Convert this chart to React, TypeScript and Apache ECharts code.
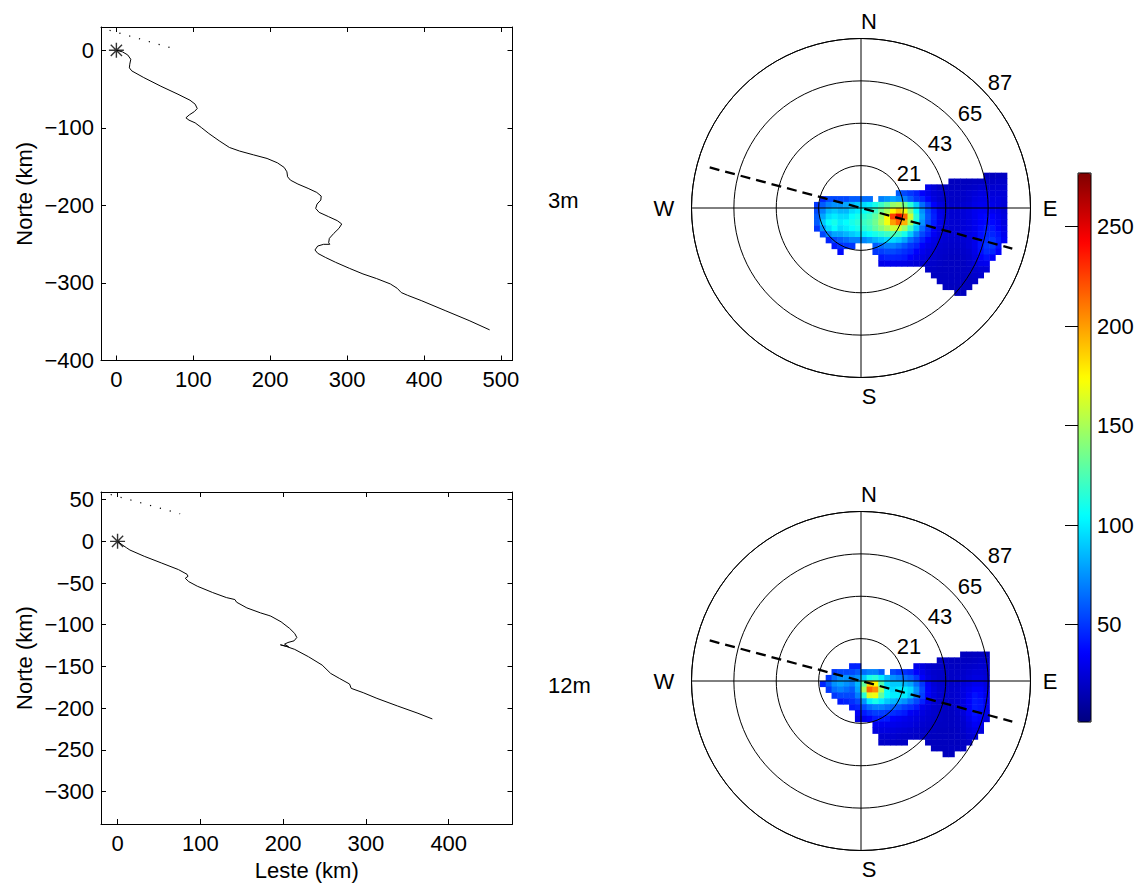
import React, { useEffect, useRef } from 'react';
import * as echarts from 'echarts';

const FONT = '"Liberation Sans", Arial, Helvetica, sans-serif';

// ---------- Left panels: progressive vector diagrams (km) ----------
const PATH_3M: number[][] = [
  [0, 0], [8.0, -2.1], [14.7, -6.0], [18.7, -11.6], [17.4, -18.0], [16.9, -22.7], [20.0, -26.6],
  [35.6, -35.2], [57.9, -46.4], [80.1, -56.7], [95.7, -64.4], [102.4, -69.5], [105.1, -75.1],
  [101.5, -79.0], [94.8, -83.3], [90.4, -87.1], [94.4, -90.1], [102.4, -93.6], [110.4, -99.6],
  [120.2, -107.3], [133.6, -116.7], [146.9, -125.3], [160.3, -130.0], [178.1, -134.8],
  [195.9, -139.5], [209.3, -145.1], [218.2, -151.1], [221.7, -156.7], [222.6, -163.1],
  [226.2, -167.4], [236.0, -172.5], [249.3, -178.1], [260.5, -183.3], [266.3, -188.0],
  [265.8, -193.1], [260.9, -198.3], [259.1, -203.9], [263.6, -209.0], [276.0, -214.6],
  [287.2, -219.7], [293.0, -224.0], [289.4, -229.6], [282.7, -236.1], [276.9, -242.5],
  [276.0, -248.1], [277.4, -250.2], [269.4, -250.2], [261.8, -252.4], [258.2, -257.5],
  [261.8, -261.8], [271.6, -267.0], [285.0, -273.4], [302.8, -281.1], [320.6, -288.4],
  [338.4, -294.4], [356.2, -301.3], [365.1, -306.9], [370.4, -312.4], [378.5, -315.9],
  [396.3, -322.7], [427.4, -335.6], [458.6, -348.5], [485.3, -360.5],
];
const PATH_12M: number[][] = [
  [0, 0], [5.4, -4.0], [10.7, -7.6], [14.9, -10.4], [32.2, -17.9], [52.9, -25.9], [73.6, -33.9],
  [83.9, -39.5], [85.1, -41.9], [81.8, -44.3], [86.0, -48.3], [96.3, -53.8], [114.9, -61.4],
  [131.4, -67.4], [141.7, -69.8], [143.8, -73.0], [156.2, -79.8], [172.7, -85.8], [181.8, -88.6],
  [185.1, -89.7], [197.5, -96.5], [207.9, -104.5], [214.0, -110.5], [216.5, -115.3],
  [213.2, -119.3], [205.8, -121.3], [201.7, -123.3], [206.6, -126.4], [196.7, -124.1],
  [203.7, -126.0], [214.0, -129.6], [230.6, -138.4], [247.1, -148.4], [257.4, -158.4],
  [267.8, -164.3], [280.2, -171.1], [282.2, -176.3], [296.7, -181.5], [313.2, -188.3],
  [338.0, -197.4], [362.8, -206.2], [380.2, -213.0],
];
const SCALE_3M: number[][] = [[-8.9, 25.8], [69.9, 3.4]];
const SCALE_12M: number[][] = [[-8.3, 56.2], [75.6, 33.1]];
const ORIGIN: number[][] = [[0, 0]];

const X_TICKS_3M = [0, 100, 200, 300, 400, 500];
const Y_TICKS_3M = [-400, -300, -200, -100, 0];
const X_TICKS_12M = [0, 100, 200, 300, 400];
const Y_TICKS_12M = [-300, -250, -200, -150, -100, -50, 0, 50];

// ---------- Right panels: polar histograms ----------
const RADIUS_MAX = 87;
const RING_LABELS = ['21', '43', '65', '87'];
const DIR_AXIS_3M: number[][] = [[80.4, 285], [80.4, 105]];
const DIR_AXIS_12M: number[][] = [[80.4, 285], [80.4, 105]];

// cell centres (east / north components)
const U_BINS = [-25.5, -22.5, -19.5, -16.5, -13.5, -10.5, -7.5, -4.5, -1.5, 1.5, 4.5, 7.5, 10.5, 13.5,
  16.5, 19.5, 22.5, 25.5, 28.5, 31.5, 34.5, 37.5, 40.5, 43.5, 46.5, 49.5, 52.5, 55.5, 58.5, 61.5,
  64.5, 67.5, 70.5, 73.5];
const V_BINS = [16.5, 13.5, 10.5, 7.5, 4.5, 1.5, -1.5, -4.5, -7.5, -10.5, -13.5, -16.5, -19.5, -22.5,
  -25.5, -28.5, -31.5, -34.5, -37.5, -40.5, -43.5, -46.5];

// each row (top to bottom): [first column index, values...]; 0 = empty
const HEAT_3M: [number, number[]][] = [
  [30, [18, 18, 19, 19]],
  [24, [18, 18, 18, 18, 19, 19, 20, 20, 21, 21]],
  [20, [30, 25, 20, 19, 19, 19, 19, 20, 21, 23, 23, 23, 23, 23]],
  [15, [60, 55, 50, 45, 35, 30, 25, 23, 21, 20, 20, 21, 23, 25, 27, 27, 25, 25, 25]],
  [2, [45, 55, 55, 55, 55, 60, 60, 65, 65, 0, 70, 75, 80, 75, 70, 60, 50, 45, 35, 27, 23, 21, 20, 20, 21, 23, 27, 29, 29, 27, 27, 25]],
  [1, [50, 60, 70, 75, 75, 80, 85, 90, 95, 100, 110, 120, 130, 145, 150, 135, 115, 90, 65, 50, 35, 27, 23, 21, 21, 23, 25, 29, 31, 31, 29, 27, 25]],
  [1, [55, 70, 85, 90, 85, 85, 95, 100, 105, 110, 120, 135, 150, 175, 190, 170, 140, 105, 75, 55, 42, 29, 25, 23, 23, 25, 27, 31, 33, 33, 31, 29, 25]],
  [1, [60, 80, 95, 100, 95, 95, 105, 110, 115, 120, 130, 145, 175, 225, 250, 215, 160, 115, 80, 58, 44, 31, 25, 23, 23, 25, 27, 31, 35, 37, 35, 31, 27]],
  [1, [60, 90, 105, 110, 100, 105, 110, 115, 120, 125, 135, 150, 170, 200, 215, 195, 150, 110, 75, 55, 42, 30, 25, 23, 23, 25, 27, 31, 35, 37, 37, 33, 27]],
  [1, [50, 75, 95, 105, 95, 100, 105, 110, 115, 120, 130, 140, 150, 160, 160, 145, 120, 90, 65, 50, 35, 28, 25, 23, 23, 25, 27, 31, 37, 42, 42, 35, 29]],
  [2, [55, 70, 80, 80, 85, 90, 95, 100, 105, 110, 115, 120, 125, 120, 110, 90, 70, 55, 45, 33, 27, 25, 23, 23, 25, 27, 31, 39, 45, 45, 40, 31]],
  [3, [45, 55, 60, 65, 70, 70, 72, 78, 85, 90, 95, 95, 90, 80, 65, 55, 45, 35, 29, 25, 23, 22, 22, 23, 25, 30, 40, 47, 50, 43, 33]],
  [4, [42, 48, 50, 50, 0, 0, 0, 60, 65, 70, 70, 65, 58, 50, 45, 35, 30, 27, 23, 22, 21, 21, 22, 25, 30, 40, 50, 50, 40]],
  [5, [38, 0, 0, 0, 0, 0, 50, 52, 55, 55, 52, 48, 44, 35, 31, 27, 25, 22, 21, 20, 20, 21, 23, 29, 39, 47, 45, 35]],
  [12, [42, 45, 45, 44, 42, 35, 31, 28, 25, 23, 21, 20, 19, 19, 20, 22, 27, 35, 40, 35]],
  [12, [30, 31, 31, 30, 29, 27, 25, 23, 22, 21, 20, 19, 19, 19, 19, 21, 25, 30, 31]],
  [20, [20, 20, 19, 19, 19, 19, 19, 20, 23, 25, 25]],
  [21, [19, 19, 19, 19, 19, 19, 20, 22, 23]],
  [22, [19, 19, 19, 19, 19, 19, 20]],
  [23, [18, 18, 18, 19, 19]],
  [25, [18, 18]],
  [0, []],
];
const HEAT_12M: [number, number[]][] = [
  [0, []],
  [26, [18, 18, 19, 19, 19]],
  [22, [19, 19, 18, 18, 19, 19, 20, 21, 21]],
  [7, [45, 45, 0, 0, 0, 0, 0, 0, 0, 0, 0, 30, 27, 23, 21, 20, 19, 19, 19, 20, 21, 22, 23, 23]],
  [4, [50, 55, 55, 55, 60, 65, 70, 70, 60, 0, 55, 50, 48, 45, 35, 30, 25, 22, 21, 20, 20, 20, 21, 23, 25, 25, 23]],
  [3, [50, 65, 75, 75, 70, 75, 90, 110, 115, 100, 85, 75, 70, 65, 60, 50, 35, 27, 23, 21, 20, 20, 21, 22, 25, 27, 27, 25]],
  [2, [45, 60, 75, 80, 75, 70, 85, 130, 185, 175, 125, 95, 90, 90, 85, 80, 65, 50, 33, 25, 22, 21, 21, 22, 25, 28, 31, 31, 27]],
  [3, [50, 65, 70, 65, 60, 80, 150, 215, 205, 150, 105, 95, 100, 100, 95, 75, 55, 35, 27, 23, 22, 22, 23, 27, 31, 35, 35, 29]],
  [4, [50, 55, 55, 55, 70, 115, 165, 170, 130, 105, 100, 100, 100, 90, 70, 52, 35, 27, 23, 22, 22, 23, 27, 33, 40, 37, 30]],
  [5, [42, 45, 48, 55, 75, 100, 110, 100, 90, 85, 80, 75, 65, 55, 45, 31, 25, 22, 21, 21, 23, 27, 35, 42, 40, 31]],
  [7, [42, 45, 55, 65, 70, 70, 65, 62, 58, 52, 48, 42, 31, 27, 23, 21, 20, 20, 22, 27, 35, 42, 40, 31]],
  [8, [33, 42, 48, 52, 52, 50, 48, 45, 42, 33, 30, 27, 24, 22, 20, 19, 19, 21, 25, 33, 40, 37, 29]],
  [8, [27, 30, 35, 42, 42, 42, 35, 33, 31, 29, 27, 25, 23, 21, 20, 19, 19, 20, 23, 30, 37, 35, 27]],
  [11, [31, 31, 31, 30, 29, 28, 27, 25, 23, 22, 20, 19, 19, 19, 20, 22, 27, 33, 31]],
  [11, [27, 27, 27, 26, 25, 24, 23, 22, 21, 20, 19, 18, 18, 18, 19, 21, 25, 29, 27]],
  [12, [23, 23, 23, 22, 21, 21, 20, 19, 19, 18, 18, 18, 18, 19, 20, 23, 25]],
  [12, [21, 21, 21, 20, 20, 0, 0, 0, 18, 18, 18, 18, 18, 18, 19, 21]],
  [21, [18, 18, 18, 19, 19, 19]],
  [23, [18, 18]],
  [0, []],
  [0, []],
  [0, []],
];

const CBAR_MIN = 1;
const CBAR_MAX = 277;
const CBAR_TICKS = [50, 100, 150, 200, 250];
const JET = ['#000080', '#0000ff', '#0080ff', '#00ffff', '#80ff80', '#ffff00', '#ff8000', '#ff0000', '#800000'];

// ---------- layout ----------
const W = 1142;
const H = 886;
const PC = [[861, 208], [861, 681]];
const PR = 169.5;
const S = PR / RADIUS_MAX;
const U_EDGE0 = -27;
const V_EDGE0 = 18;
const STAR = 'path://M0,-10L0,10M-10,0L10,0M-7.5,-7.5L7.5,7.5M-7.5,7.5L7.5,-7.5';

function heatData(rows: [number, number[]][]) {
  const out: number[][] = [];
  rows.forEach(([start, vals], j) => {
    vals.forEach((v, k) => {
      if (v > 0) out.push([start + k, j, v]);
    });
  });
  return out;
}

const minus = (v: number) => String(v).replace('-', '\u2212');

function boxAxes(grid: number, xr: number[], yr: number[], xt: number[], yt: number[], xName: string) {
  const line = { show: true, onZero: false, lineStyle: { color: '#000', width: 1 } };
  const tick = (vals: number[]) => ({ show: true, inside: true, length: 5, customValues: vals, lineStyle: { color: '#000', width: 1 } });
  const lab = (vals: number[], margin: number) => ({
    show: true, customValues: vals, fontSize: 22, fontFamily: FONT, color: '#000', margin, formatter: minus,
  });
  const x = [
    {
      gridIndex: grid, type: 'value', min: xr[0], max: xr[1], position: 'bottom',
      axisLine: line, axisTick: tick(xt), axisLabel: lab(xt, 8), splitLine: { show: false },
      name: xName, nameLocation: 'middle', nameGap: 35, nameMoveOverlap: false,
      nameTextStyle: { fontSize: 22, fontFamily: FONT, color: '#000' },
    },
    {
      gridIndex: grid, type: 'value', min: xr[0], max: xr[1], position: 'top',
      axisLine: line, axisTick: tick(xt), axisLabel: { show: false }, splitLine: { show: false },
    },
  ];
  const y = [
    {
      gridIndex: grid, type: 'value', min: yr[0], max: yr[1], position: 'left',
      axisLine: line, axisTick: tick(yt), axisLabel: lab(yt, 7), splitLine: { show: false },
      name: 'Norte (km)', nameLocation: 'middle', nameGap: 66, nameRotate: 90, nameMoveOverlap: false,
      nameTextStyle: { fontSize: 22, fontFamily: FONT, color: '#000' },
    },
    {
      gridIndex: grid, type: 'value', min: yr[0], max: yr[1], position: 'right',
      axisLine: line, axisTick: tick(yt), axisLabel: { show: false }, splitLine: { show: false },
    },
  ];
  return { x, y };
}

function txt(text: string, x: number, y: number, align = 'center') {
  return {
    type: 'text',
    silent: true,
    z: 20,
    style: {
      text, x, y, font: `22px ${FONT}`, fill: '#000',
      align, textAlign: align, verticalAlign: 'middle', textVerticalAlign: 'middle',
    },
  };
}

export default function App() {
  const ref = useRef<HTMLDivElement>(null);
  useEffect(() => {
    if (!ref.current) return;
    const chart = echarts.init(ref.current, undefined, { renderer: 'svg', width: W, height: H });

    const top = boxAxes(0, [-20, 515], [-400, 30], X_TICKS_3M, Y_TICKS_3M, '');
    const bot = boxAxes(1, [-20, 477], [-339, 59.2], X_TICKS_12M, Y_TICKS_12M, 'Leste (km)');

    const heatGrid = (i: number) => ({
      left: PC[i][0] + U_EDGE0 * S,
      top: PC[i][1] - V_EDGE0 * S,
      width: U_BINS.length * 3 * S,
      height: V_BINS.length * 3 * S,
      outerBoundsMode: 'none',
    });

    const heatX = (g: number) => ({ gridIndex: g, type: 'category', data: U_BINS.map(String), show: false, boundaryGap: true });
    const heatY = (g: number) => ({ gridIndex: g, type: 'category', data: V_BINS.map(String), show: false, boundaryGap: true, inverse: true });

    const graphics: any[] = [];
    PC.forEach(([cx, cy]) => {
      graphics.push(txt('N', cx + 8, cy - 187));
      graphics.push(txt('S', cx + 8, cy + 188));
      graphics.push(txt('W', cx - 197, cy));
      graphics.push(txt('E', cx + 189, cy));
      const offs = [[48, -35], [79, -65], [109, -95], [139, -126]];
      RING_LABELS.forEach((l, k) => graphics.push(txt(l, cx + offs[k][0], cy + offs[k][1])));
    });
    graphics.push(txt('3m', 548, 200, 'left'));
    graphics.push(txt('12m', 548, 685, 'left'));

    const option: any = {
      animation: false,
      textStyle: { fontFamily: FONT, color: '#000' },
      grid: [
        { left: 101, top: 27, width: 411.5, height: 333.5, outerBoundsMode: 'none' },
        { left: 101, top: 492, width: 411.5, height: 332, outerBoundsMode: 'none' },
        heatGrid(0),
        heatGrid(1),
        {
          left: 1078, top: 173, width: 13, height: 549, show: true, z: 10,
          borderColor: '#000', borderWidth: 1, backgroundColor: 'transparent', outerBoundsMode: 'none',
        },
      ],
      xAxis: [
        ...top.x, ...bot.x, heatX(2), heatX(3),
        { gridIndex: 4, type: 'value', min: 0, max: 1, show: false },
      ],
      yAxis: [
        ...top.y, ...bot.y, heatY(2), heatY(3),
        {
          gridIndex: 4, type: 'value', min: CBAR_MIN, max: CBAR_MAX, position: 'right', z: 11,
          axisLine: { show: false },
          axisTick: { show: true, inside: true, length: 13, customValues: CBAR_TICKS, lineStyle: { color: '#000', width: 1 } },
          axisLabel: { show: true, customValues: CBAR_TICKS, fontSize: 22, fontFamily: FONT, color: '#000', margin: 6 },
          splitLine: { show: false },
        },
      ],
      polar: PC.map((c) => ({ center: c, radius: PR })),
      angleAxis: PC.map((_, i) => ({
        polarIndex: i, type: 'value', min: 0, max: 360, interval: 90, startAngle: 90, clockwise: true, z: 10,
        axisLine: { show: true, lineStyle: { color: '#000', width: 1 } },
        axisTick: { show: false }, axisLabel: { show: false },
        splitLine: { show: true, lineStyle: { color: '#000', width: 1 } },
      })),
      radiusAxis: PC.map((_, i) => ({
        polarIndex: i, type: 'value', min: 0, max: RADIUS_MAX, interval: RADIUS_MAX / 4, z: 10,
        axisLine: { show: false }, axisTick: { show: false }, axisLabel: { show: false },
        splitLine: { show: true, lineStyle: { color: '#000', width: 1 } },
      })),
      visualMap: {
        type: 'continuous', min: CBAR_MIN, max: CBAR_MAX, seriesIndex: [6, 7], dimension: 2,
        inRange: { color: JET }, calculable: false, hoverLink: false, realtime: false,
        left: 1078, top: 173, itemWidth: 13, itemHeight: 549, padding: 0, orient: 'vertical',
      },
      series: [
        {
          type: 'line', xAxisIndex: 0, yAxisIndex: 0, data: PATH_3M, symbol: 'none', showSymbol: false,
          lineStyle: { color: '#000', width: 1 }, silent: true, z: 3,
        },
        {
          type: 'scatter', xAxisIndex: 0, yAxisIndex: 0, data: ORIGIN, symbol: STAR, symbolSize: 15,
          itemStyle: { color: 'rgba(0,0,0,0)', borderColor: '#000', borderWidth: 1.4 }, silent: true, z: 4,
        },
        {
          type: 'line', xAxisIndex: 0, yAxisIndex: 0, data: SCALE_3M, symbol: 'none',
          lineStyle: { color: '#000', width: 1.2, type: [1.2, 9] }, silent: true,
        },
        {
          type: 'line', xAxisIndex: 2, yAxisIndex: 2, data: PATH_12M, symbol: 'none', showSymbol: false,
          lineStyle: { color: '#000', width: 1 }, silent: true, z: 3,
        },
        {
          type: 'scatter', xAxisIndex: 2, yAxisIndex: 2, data: ORIGIN, symbol: STAR, symbolSize: 15,
          itemStyle: { color: 'rgba(0,0,0,0)', borderColor: '#000', borderWidth: 1.4 }, silent: true, z: 4,
        },
        {
          type: 'line', xAxisIndex: 2, yAxisIndex: 2, data: SCALE_12M, symbol: 'none',
          lineStyle: { color: '#000', width: 1.2, type: [1.2, 9] }, silent: true,
        },
        {
          type: 'heatmap', xAxisIndex: 4, yAxisIndex: 4, data: heatData(HEAT_3M), silent: true,
          progressive: 0, emphasis: { disabled: true }, z: 2,
        },
        {
          type: 'heatmap', xAxisIndex: 5, yAxisIndex: 5, data: heatData(HEAT_12M), silent: true,
          progressive: 0, emphasis: { disabled: true }, z: 2,
        },
        {
          type: 'line', coordinateSystem: 'polar', polarIndex: 0, data: DIR_AXIS_3M, symbol: 'none',
          lineStyle: { color: '#000', width: 2.3, type: [10, 6] }, silent: true, z: 12,
        },
        {
          type: 'line', coordinateSystem: 'polar', polarIndex: 1, data: DIR_AXIS_12M, symbol: 'none',
          lineStyle: { color: '#000', width: 2.3, type: [10, 6] }, silent: true, z: 12,
        },
      ],
      graphic: graphics,
    };
    chart.setOption(option);
    return () => chart.dispose();
  }, []);
  return <div ref={ref} style={{ position: 'absolute', left: 0, top: 0, width: W, height: H, background: '#fff' }} />;
}
